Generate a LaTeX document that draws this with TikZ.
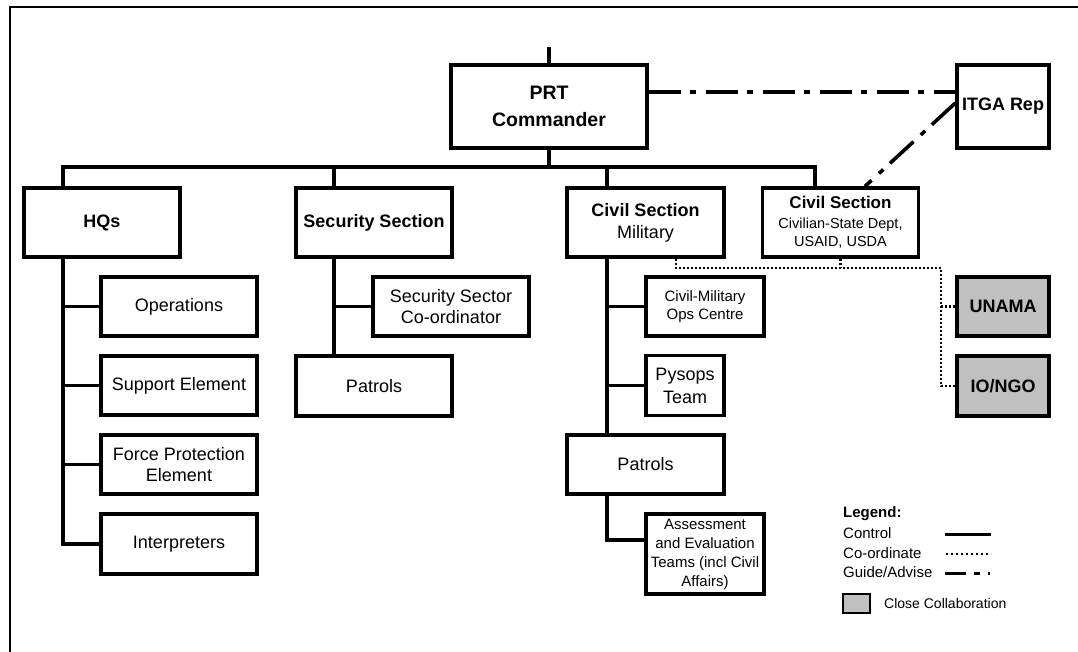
\documentclass[tikz,border=0pt]{standalone}
\usepackage{fontspec}
\setmainfont{Liberation Sans}
\usepackage{tikz}
\usetikzlibrary{positioning}
\definecolor{collabgray}{RGB}{192,192,192}
\tikzstyle{unit}=[draw=black, line width=3.3pt, inner sep=0pt, align=center, font=\fontsize{18}{21.6}\selectfont]
\tikzstyle{unit_bold}=[unit, font=\fontsize{18}{21.6}\selectfont\bfseries]
\tikzstyle{unit_small}=[unit, font=\fontsize{15}{18.5}\selectfont]
\tikzstyle{unit_collab}=[unit_bold, fill=collabgray]
\tikzstyle{control}=[line width=3.3pt]
\tikzstyle{coordinate_line}=[line width=2.8pt, dash pattern=on 2pt off 2pt]
\tikzstyle{guide_line}=[line width=3.6pt, dash pattern=on 32pt off 9pt on 6pt off 10pt]
\tikzstyle{legend_text}=[anchor=west, inner sep=0pt, font=\fontsize{15}{18}\selectfont]

\begin{document}
\begin{tikzpicture}[x=1pt, y=-1pt]
\useasboundingbox (0,0) rectangle (1078,652);
\draw[line width=2.4pt](1078,7) -- (10,7) -- (10,652);
\node[unit, minimum width=196pt, minimum height=83pt, font=\fontsize{19.5}{27}\selectfont\bfseries] (cmd) at (549,106.5){PRT\\Commander};
\node[unit_bold, minimum width=92pt, minimum height=83pt] (itga) at (1003,106.5){ITGA Rep};
\node[unit_bold, minimum width=156pt, minimum height=69pt] (hqs) at (102,222.5){HQs};
\node[unit_bold, minimum width=156pt, minimum height=69pt] (sec) at (374,222.5){Security Section};
\node[unit, minimum width=157pt, minimum height=69pt, font=\fontsize{18}{22}\selectfont] (civmil) at (645.5,222.5){{\bfseries Civil Section}\\Military};
\node[unit, minimum width=156pt, minimum height=69pt, font=\fontsize{14.5}{18}\selectfont] (civ) at (840.5,222.5){{\fontsize{17}{20}\selectfont\bfseries Civil Section}\\[2pt]Civilian-State Dept,\\USAID, USDA};
\node[unit, minimum width=156pt, minimum height=59pt] (ops) at (179,306.5){Operations};
\node[unit, minimum width=156pt, minimum height=59pt] (sup) at (179,385.5){Support Element};
\node[unit, minimum width=156pt, minimum height=59pt] (fpe) at (179,464.5){Force Protection\\Element};
\node[unit, minimum width=156pt, minimum height=60pt] (intp) at (179,544){Interpreters};
\node[unit, minimum width=156pt, minimum height=59pt] (ssc) at (451,306.5){Security Sector\\Co-ordinator};
\node[unit, minimum width=156pt, minimum height=60pt] (spat) at (374,386){Patrols};
\node[unit_small, minimum width=118pt, minimum height=59pt] (cmoc) at (705,306.5){Civil-Military\\Ops Centre};
\node[unit, minimum width=78pt, minimum height=60pt, font=\fontsize{18}{23}\selectfont] (psy) at (685,385.5){Pysops\\Team};
\node[unit, minimum width=157pt, minimum height=59pt] (cpat) at (645.5,464.5){Patrols};
\node[unit_small, minimum width=118pt, minimum height=80pt, font=\fontsize{15}{19}\selectfont] (aet) at (705,554){Assessment\\and Evaluation\\Teams (incl Civil\\Affairs)};
\node[unit_collab, minimum width=92pt, minimum height=59pt] (unama) at (1003,306.5){UNAMA};
\node[unit_collab, minimum width=92pt, minimum height=60pt] (iongo) at (1003,386){IO/NGO};
\coordinate (top) at (549,47);
\coordinate (bus) at (0,167);
\coordinate (hqsx) at (63,0);
\coordinate (secx) at (334,0);
\coordinate (cmx) at (607,0);
\coordinate (civx) at (815,0);
\coordinate (crd) at (941,268);
\draw[control](cmd.north) -- (top);
\draw[control](cmd.south) -- (cmd.south |- bus);
\draw[control](hqs.north -| hqsx) -- (hqsx |- bus) -- (civx |- bus) -- (civ.north -| civx);
\draw[control](secx |- bus) -- (sec.north -| secx);
\draw[control](cmx |- bus) -- (civmil.north -| cmx);
\draw[control](hqs.south -| hqsx) -- (hqsx |- intp.west) -- (intp.west);
\draw[control](hqsx |- ops.west) -- (ops.west);
\draw[control](hqsx |- sup.west) -- (sup.west);
\draw[control](hqsx |- fpe.west) -- (fpe.west);
\draw[control](sec.south -| secx) -- (spat.north -| secx);
\draw[control](secx |- ssc.west) -- (ssc.west);
\draw[control](civmil.south -| cmx) -- (cpat.north -| cmx);
\draw[control](cmx |- cmoc.west) -- (cmoc.west);
\draw[control](cmx |- psy.west) -- (psy.west);
\draw[control](cpat.south -| cmx) |- ([yshift=14pt]aet.west);
\draw[guide_line]([yshift=14.5pt]cmd.east) -- ([yshift=14.5pt]itga.west);
\draw[guide_line]([yshift=3.5pt]itga.west) -- ([xshift=24.5pt]civ.north);
\draw[coordinate_line]([xshift=30.5pt]civmil.south) |- (crd) |- (iongo.west);
\draw[coordinate_line](civ.south) -- (civ.south |- crd);
\draw[coordinate_line](crd |- unama.west) -- (unama.west);
\node[legend_text, font=\fontsize{15}{18}\selectfont\bfseries] (lgd) at (843,514){Legend:};
\node[legend_text] (lctl) at (843,533){Control};
\node[legend_text] (lcrd) at (843,553){Co-ordinate};
\node[legend_text] (lgda) at (843,572){Guide/Advise};
\coordinate (lctla) at (945,534);
\coordinate (lctlb) at (991,534);
\coordinate (lcrda) at (946,554);
\coordinate (lcrdb) at (991,554);
\coordinate (lgdaa) at (945,573);
\coordinate (lgdab) at (991,573);
\draw[control, line width=3pt](lctla) -- (lctlb);
\draw[coordinate_line, line width=2.6pt, dash pattern=on 2pt off 3pt](lcrda) -- (lcrdb);
\draw[line width=3pt, dash pattern=on 21pt off 8pt on 6pt off 8pt on 2pt off 10pt](lgdaa) -- (lgdab);
\node[draw, line width=1.8pt, fill=collabgray, minimum width=27pt, minimum height=19pt, inner sep=0pt] (lcol) at (856.5,603.5){};
\node[legend_text, font=\fontsize{14}{17}\selectfont] (lcolt) at (884,603){Close Collaboration};
\end{tikzpicture}
\end{document}
